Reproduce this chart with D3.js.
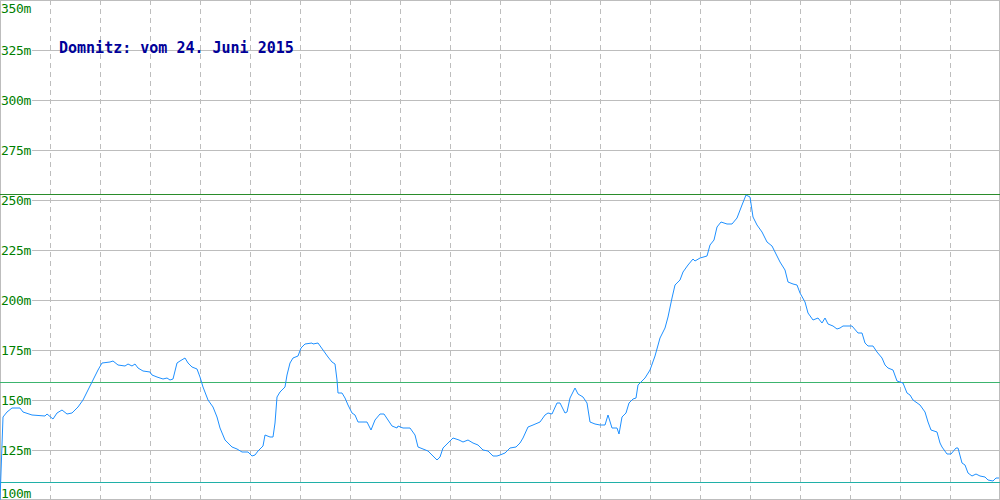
<!DOCTYPE html>
<html>
<head>
<meta charset="utf-8">
<script src="https://cdn.jsdelivr.net/npm/d3@7"></script>
<style>
  html, body { margin: 0; padding: 0; background: #fff; }
  svg { display: block; }
</style>
</head>
<body>
<svg id="chart" width="1000" height="500"></svg>
<script>
// ---- data ----
const title = "Domnitz: vom 24. Juni 2015";
const yTicks = [100, 125, 150, 175, 200, 225, 250, 275, 300, 325, 350];
const yTickLabels = ["100m", "125m", "150m", "175m", "200m", "225m", "250m", "275m", "300m", "325m", "350m"];
const xGridTicks = [5, 10, 15, 20, 25, 30, 35, 40, 45, 50, 55, 60, 65, 70, 75, 80, 85, 90, 95];
const refMax = 252.8;
const refMean = 159;
const refMin = 109;

const distance = [
  0, 0.3, 0.7, 1.2, 2.0, 2.3, 3.2, 4.5, 4.7, 5.3, 5.7, 6.2, 6.7, 7.2, 7.8, 8.3, 8.8, 9.3, 9.8,
  10.2, 11.0, 11.3, 11.8, 12.5, 12.8, 13.2, 13.5, 13.8, 14.3, 15.0, 15.2, 15.7, 16.3, 16.7, 17.0,
  17.3, 17.7, 18.0, 18.5, 18.8, 19.2, 19.7, 20.0, 20.3, 20.8, 21.3, 21.7, 22.0, 22.5, 23.2, 23.7,
  24.2, 24.8, 25.2, 25.5, 25.8, 26.3, 26.5, 27.0, 27.3, 27.5, 27.7, 28.0, 28.5, 28.7, 29.0, 29.3,
  29.8, 30.1, 30.5, 31.2, 31.3, 31.8, 32.3, 32.8, 33.2, 33.5, 33.7, 33.8, 34.2, 34.5, 34.8, 35.2,
  35.5, 35.8, 36.7, 37.1, 37.5, 38.0, 38.4, 38.8, 39.2, 39.7, 39.8, 40.3, 41.0, 41.5, 41.8, 42.3,
  42.8, 43.2, 43.7, 44.0, 44.3, 44.8, 45.3, 45.6, 45.9, 46.3, 46.8, 47.3, 47.8, 48.3, 48.8, 49.3,
  49.7, 50.0, 50.5, 51.0, 51.6, 52.0, 52.3, 52.8, 53.3, 54.0, 54.5, 54.8, 55.2, 55.7, 56.0, 56.5,
  56.7, 57.0, 57.5, 57.8, 58.3, 58.7, 59.0, 59.5, 60.0, 60.5, 60.8, 61.2, 61.7, 61.9, 62.2, 62.6,
  62.9, 63.3, 63.6, 63.8, 64.5, 65.0, 65.5, 66.0, 66.5, 66.8, 67.2, 67.5, 68.0, 68.3, 68.8, 69.3,
  69.5, 70.0, 70.7, 71.0, 71.4, 71.7, 72.1, 72.7, 73.2, 73.7, 74.2, 74.6, 75.0, 75.3, 75.7, 76.2,
  76.7, 77.2, 77.5, 78.0, 78.5, 78.8, 79.3, 79.7, 80.0, 80.5, 80.8, 81.3, 81.8, 82.2, 82.5, 82.8,
  83.3, 83.7, 84.0, 84.3, 85.2, 85.8, 86.2, 86.5, 86.8, 87.3, 87.7, 88.2, 88.5, 88.8, 89.3, 89.7,
  90.3, 90.7, 91.0, 91.3, 92.0, 92.5, 92.8, 93.1, 93.7, 94.0, 94.2, 94.7, 95.1, 95.6, 95.8, 96.2,
  96.5, 96.8, 97.2, 97.6, 98.0, 98.5, 98.8, 99.3, 99.6, 99.9
];
const elevation = [
  100, 141.5, 144, 146, 146, 144, 142.5, 142, 143, 140.5, 143.5, 145, 143, 143.5, 146.5, 150, 155, 160, 165,
  168.5, 169, 169.5, 167.5, 167, 168, 167, 168, 166, 164.5, 164, 162.5, 161.5, 160.5, 161, 160,
  160.5, 168.5, 169.5, 171, 168.5, 166.5, 165.5, 161.5, 156.5, 150, 146.5, 141.5, 136, 130, 126.5, 125.5,
  124, 124, 122, 122.5, 124.5, 127, 132.5, 131.5, 131.5, 138.5, 151.5, 154, 156.5, 162.5, 168.5, 171,
  172, 176, 178, 178.5, 178, 178.5, 175, 171.5, 169, 168, 160, 153.5, 153.5, 151, 147.5, 143.5,
  142.5, 139, 139, 135, 140, 143, 143, 140, 137, 136, 137, 136, 136, 132.5, 126.5, 125.5, 124.5,
  122.5, 120, 121.5, 126, 128.5, 131, 130.5, 130, 129, 130, 128.5, 127.5, 125, 124.5, 122, 122,
  122.5, 123.5, 126, 126.5, 128.5, 131, 136.5, 137.5, 139, 142.5, 143.5, 143, 148.5, 148.5, 143.5, 144,
  151, 156, 153, 151.5, 148.5, 139, 138, 137.5, 137.5, 142.5, 136, 136, 133, 141.5, 143.5, 148.5,
  150.5, 151, 157.5, 161, 165, 172, 181, 186, 191.5, 201, 207.5, 210, 214, 217.5, 220.5, 219.5,
  221, 222, 227.5, 230, 236.5, 239, 238, 238, 241, 247.5, 252.5, 251.5, 241.5, 237.5, 234, 229,
  227, 224, 219, 215, 209, 208, 207.5, 203.5, 199, 193.5, 190, 191, 188.5, 191, 188, 187,
  185.5, 186, 187, 187, 183.5, 183.5, 178.5, 177, 177, 174, 171, 167.5, 166, 165, 159.5, 158.5,
  153.5, 152.5, 150, 147.5, 144, 139, 135, 134, 128.5, 126.5, 123, 123, 126, 126, 118.5, 117.5,
  113.5, 112, 113, 112, 111.5, 110, 109.5, 111, 111, 111
];

// ---- chart ----
const W = 1000, H = 500;
const svg = d3.select("#chart");
const x = d3.scaleLinear().domain([0, 100]).range([0, W]);
const y = d3.scaleLinear().domain([100, 350]).range([H, 0]);
const px = v => Math.round(v) + 0.5;

svg.append("rect").attr("width", W).attr("height", H).attr("fill", "#fff");

// vertical dashed grid
svg.append("g").selectAll("line").data(xGridTicks).join("line")
  .attr("x1", d => px(x(d))).attr("x2", d => px(x(d)))
  .attr("y1", 0).attr("y2", H)
  .attr("stroke", "#bdbdbd").attr("stroke-width", 1)
  .attr("stroke-dasharray", "5,4")
  .attr("shape-rendering", "crispEdges");

// horizontal grid
svg.append("g").selectAll("line").data(yTicks).join("line")
  .attr("x1", 0).attr("x2", W)
  .attr("y1", d => px(Math.min(y(d), H - 1))).attr("y2", d => px(Math.min(y(d), H - 1)))
  .attr("stroke", "#bdbdbd").attr("stroke-width", 1)
  .attr("shape-rendering", "crispEdges");

// border
svg.append("rect").attr("x", 0.5).attr("y", 0.5).attr("width", W - 1).attr("height", H - 1)
  .attr("fill", "none").attr("stroke", "#bdbdbd").attr("shape-rendering", "crispEdges");

// label backgrounds (hide grid behind tick labels)
const labelY = d => Math.max(8, Math.min(H - 7, y(d)));
svg.append("g").selectAll("rect").data(yTicks.slice(1, -1)).join("rect")
  .attr("x", 1).attr("y", d => labelY(d) - 5).attr("width", 31).attr("height", 10)
  .attr("fill", "#fff");

// reference lines
const refs = [
  {v: refMax, c: "#2a8c2a"},
  {v: refMean, c: "#3cb46e"},
  {v: refMin, c: "#20b0a8"}
];
svg.append("g").selectAll("line").data(refs).join("line")
  .attr("x1", 0).attr("x2", W)
  .attr("y1", d => px(y(d.v))).attr("y2", d => px(y(d.v)))
  .attr("stroke", d => d.c).attr("stroke-width", 1)
  .attr("shape-rendering", "crispEdges");

// data line
const pts = distance.map((d, i) => [d, elevation[i]]);
svg.append("path").datum(pts)
  .attr("fill", "none").attr("stroke", "#1e90ff").attr("stroke-width", 1)
  .attr("d", d3.line().x(d => x(d[0])).y(d => y(d[1])));

// tick labels
svg.append("g").selectAll("text").data(yTicks).join("text")
  .attr("x", 1).attr("y", d => labelY(d))
  .attr("dy", "0.36em")
  .attr("font-family", "'DejaVu Sans Mono', monospace").attr("font-size", 13)
  .attr("letter-spacing", "-0.3")
  .attr("fill", "#008000")
  .text((d, i) => yTickLabels[i]);

// title
svg.append("text").attr("x", 59).attr("y", 53)
  .attr("font-family", "'DejaVu Sans Mono', monospace").attr("font-size", 15)
  .attr("font-weight", "bold").attr("fill", "#000099")
  .text(title);
</script>
</body>
</html>
